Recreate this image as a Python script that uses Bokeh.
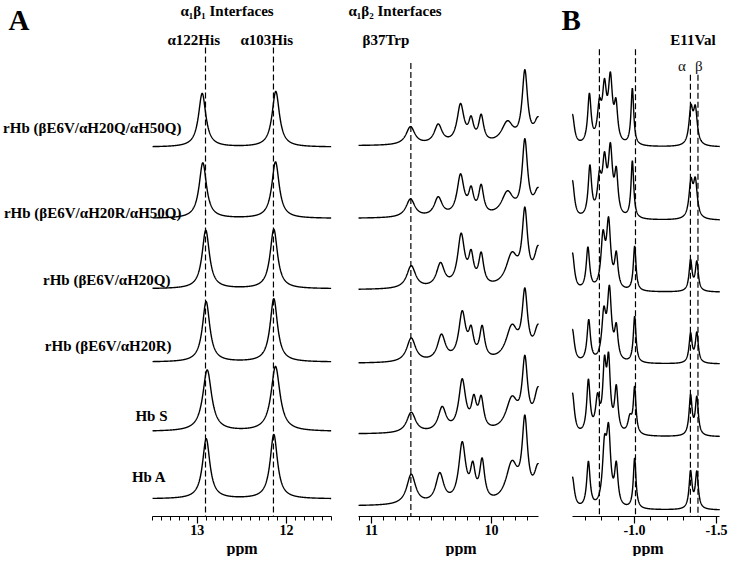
import numpy as np
from bokeh.plotting import figure
from bokeh.layouts import row
from bokeh.models import Range1d, FixedTicker, Title
from bokeh.core.properties import value
from bokeh.embed import file_html
from bokeh.resources import INLINE

# ---------------- data ----------------
sample_labels = ["rHb (βE6V/αH20Q/αH50Q)", "rHb (βE6V/αH20R/αH50Q)",
                 "rHb (βE6V/αH20Q)", "rHb (βE6V/αH20R)", "Hb S", "Hb A"]

# Panel A, alpha1beta1 interface (His) region: baseline (px), peak ppm, peak height (px), linewidth (ppm)
his_span = (13.5, 11.5)
his_base = [152, 225, 297, 372, 443, 512]
his_pos = [[12.944, 12.120], [12.937, 12.123], [12.904, 12.142],
           [12.900, 12.142], [12.888, 12.123], [12.899, 12.142]]
his_h = [[55, 57], [57, 58], [60, 61], [62, 65], [63, 66.6], [61.7, 66]]
his_w = [[0.10, 0.10], [0.10, 0.10], [0.10, 0.10],
         [0.10, 0.10], [0.12, 0.12], [0.10, 0.10]]
his_marks = [12.907, 12.146]

# Panel A, alpha1beta2 interface (Trp) region
trp_span = (11.108, 9.608)
trp_base = [150.7, 225, 298, 373.3, 445.7, 519.3]
trp_pos = [[10.675, 10.444, 10.258, 10.170, 10.086, 9.867, 9.722, 9.61],
           [10.675, 10.444, 10.258, 10.170, 10.086, 9.867, 9.722, 9.61],
           [10.669, 10.425, 10.253, 10.170, 10.086, 9.830, 9.722, 9.61],
           [10.669, 10.417, 10.244, 10.170, 10.078, 9.830, 9.722, 9.61],
           [10.669, 10.411, 10.244, 10.147, 10.086, 9.830, 9.722, 9.61],
           [10.669, 10.431, 10.244, 10.156, 10.078, 9.830, 9.722, 9.61]]
trp_h = [[19.7, 22.4, 43.4, 30.7, 32.4, 25.7, 78.0, 29.7],
         [20.0, 22.3, 45.7, 33.3, 35.0, 28.3, 81.7, 31.7],
         [24.7, 28.0, 58.0, 41.3, 38.7, 38.7, 84.7, 45.3],
         [26.0, 30.0, 54.0, 39.0, 39.0, 40.0, 77.3, 40.0],
         [22.4, 28.4, 56.7, 40.7, 39.7, 39.0, 80.7, 48.4],
         [32.6, 34.3, 66.0, 46.0, 49.3, 46.6, 93.3, 43.3]]
trp_w = [0.09, 0.08, 0.07, 0.05, 0.05, 0.12, 0.055, 0.08]
trp_marks = [10.672]

# Panel B, E11Val methyl region
val_span = (-0.621, -1.52)
val_base = [152, 227, 300.5, 374, 448.5, 523.5]
val_pos = [[-0.621, -0.725, -0.786, -0.817, -0.853, -0.887, -0.987, -1.344, -1.371],
           [-0.621, -0.728, -0.786, -0.817, -0.853, -0.889, -0.987, -1.344, -1.371],
           [-0.621, -0.716, -0.808, -0.842, -0.889, -1.001, -1.342, -1.380],
           [-0.621, -0.721, -0.813, -0.847, -0.889, -1.001, -1.342, -1.380],
           [-0.621, -0.719, -0.775, -0.817, -0.842, -0.889, -0.972, -1.001, -1.342, -1.380],
           [-0.621, -0.719, -0.817, -0.842, -0.889, -1.001, -1.342, -1.380]]
val_h = [[33.7, 55.3, 50.3, 70.3, 77.0, 50.3, 60.3, 43.7, 43.0],
         [41.0, 57.0, 51.0, 70.3, 79.7, 55.3, 61.0, 43.7, 44.3],
         [40.5, 46.5, 63.8, 77.2, 42.2, 47.2, 33.8, 32.2],
         [35.7, 45.7, 59.0, 80.7, 42.3, 49.0, 32.3, 33.0],
         [45.2, 59.2, 45.2, 83.5, 86.8, 53.5, 23.5, 51.8, 43.5, 41.8],
         [34.2, 50.2, 76.8, 89.2, 50.2, 53.5, 40.8, 40.2]]
val_w = [[0.03, 0.025, 0.03, 0.03, 0.03, 0.025, 0.02, 0.028, 0.028],
         [0.03, 0.025, 0.03, 0.03, 0.03, 0.025, 0.02, 0.028, 0.028],
         [0.03, 0.025, 0.03, 0.03, 0.025, 0.02, 0.022, 0.022],
         [0.03, 0.025, 0.03, 0.03, 0.025, 0.02, 0.022, 0.022],
         [0.03, 0.025, 0.03, 0.025, 0.025, 0.025, 0.03, 0.02, 0.022, 0.022],
         [0.03, 0.025, 0.03, 0.03, 0.025, 0.02, 0.022, 0.022]]
val_marks = [-0.786, -1.006, -1.341, -1.387]

# ---------------- helpers ----------------
FONT = value("Liberation Serif")
Y0 = 512.0  # reference pixel row used as zero of the vertical data scale


def yv(ref_y):
    return Y0 - np.asarray(ref_y, float)


def x1(px):  # panel A (His): pixel -> ppm
    return 13.0 - (np.asarray(px, float) - 196.7) / 89.3


def x2(px):  # panel A (Trp): pixel -> ppm
    return 11.0 - (np.asarray(px, float) - 371.0) / 120.0


def x3(px):  # panel B: pixel -> ppm (compressed a little to fit the window)
    return -1.0 - (np.asarray(px, float) - 634.0) / 164.0


def x3ref(ref_px):  # panel B: reference pixel -> ppm
    return -1.0 - (np.asarray(ref_px, float) - 641.5) / 199.0


def spectrum(x, pos, h, w):
    pos = np.asarray(pos, float)
    h = np.asarray(h, float)
    hw = np.asarray(w, float) / 2.0
    M = 1.0 / (1.0 + ((pos[:, None] - pos[None, :]) / hw[None, :]) ** 2)
    amp = np.linalg.solve(M, h)
    return (amp[None, :] / (1.0 + ((x[:, None] - pos[None, :]) / hw[None, :]) ** 2)).sum(axis=1)


def make_fig(width, xr, bounds, major, minor, overrides, ppm_offset):
    p = figure(width=width, height=556, x_range=Range1d(*xr), y_range=Range1d(-18, 510),
               output_backend="svg", toolbar_location=None,
               x_axis_location="below", y_axis_location=None,
               min_border_left=0, min_border_right=0, min_border_top=0, min_border_bottom=0)
    p.outline_line_color = None
    p.xgrid.visible = False
    p.ygrid.visible = False
    p.background_fill_color = "white"
    p.border_fill_color = "white"
    ax = p.xaxis[0]
    ax.bounds = bounds
    ax.ticker = FixedTicker(ticks=major, minor_ticks=minor)
    ax.major_label_overrides = overrides
    ax.axis_line_color = "black"
    ax.axis_line_width = 1.2
    ax.major_tick_line_color = "black"
    ax.minor_tick_line_color = "black"
    ax.major_tick_line_width = 1.2
    ax.minor_tick_line_width = 1.0
    ax.major_tick_in = 0
    ax.major_tick_out = 7
    ax.minor_tick_in = 0
    ax.minor_tick_out = 4
    ax.major_label_standoff = 1
    ax.major_label_text_font = "Liberation Serif"
    ax.major_label_text_font_style = "bold"
    ax.major_label_text_font_size = "14px"
    ax.major_label_text_color = "black"
    p.add_layout(Title(text="ppm", align="left", offset=ppm_offset, standoff=0,
                       text_font="Liberation Serif", text_font_style="bold",
                       text_font_size="16px", text_color="black"), "below")
    return p


def draw_traces(p, span, base, pos, h, w):
    x = np.linspace(span[0], span[1], 900)
    for i in range(len(base)):
        wi = w[i] if isinstance(w[i], (list, tuple)) else w
        y = yv(base[i]) + spectrum(x, pos[i], h[i], wi)
        p.line(x, y, line_color="black", line_width=1.4)


def draw_marks(p, xs, tops):
    p.segment(x0=xs, y0=list(yv(tops)), x1=xs, y1=[-18] * len(xs),
              line_color="black", line_width=1.2, line_dash="6 3")


def txt(p, x, y, s, size="15px", style="bold", align="left", baseline="alphabetic", color="black"):
    p.text(x=[float(x)], y=[float(y)], text=[s], text_font=FONT, text_font_style=style,
           text_font_size=size, text_align=align, text_baseline=baseline, text_color=color)


# ---------------- panel A: His ----------------
p1 = make_fig(344, (float(x1(0)), float(x1(344))), (11.5, 13.5), [12, 13],
              list(np.round(np.arange(11.5, 13.51, 0.1), 2)), {12: "12", 13: "13"}, 226)
draw_traces(p1, his_span, his_base, his_pos, his_h, his_w)
draw_marks(p1, his_marks, [50, 50])
txt(p1, x1(8), yv(22), "A", size="29px")
txt(p1, x1(180), yv(13), "α₁β₁ Interfaces")
txt(p1, x1(167), yv(42), "α122His")
txt(p1, x1(240), yv(42), "α103His")
label_right = [181, 181, 170, 171, 167, 166]
label_mid = [132, 219, 288, 356, 427.5, 490]
for s, rx, ry in zip(sample_labels, label_right, label_mid):
    txt(p1, x1(rx), yv(ry), s, align="right", baseline="middle")

# ---------------- panel A: Trp ----------------
p2 = make_fig(208, (float(x2(344)), float(x2(552))), (9.608, 11.108), [10, 11],
              list(np.round(np.arange(9.7, 11.11, 0.1), 2)), {10: "10", 11: "11"}, 101)
draw_traces(p2, trp_span, trp_base, trp_pos, trp_h, trp_w)
draw_marks(p2, trp_marks, [66])
txt(p2, x2(348), yv(13), "α₁β₂ Interfaces")
txt(p2, x2(362), yv(42), "β37Trp")

# ---------------- panel B: E11Val ----------------
p3 = make_fig(177, (float(x3(552)), float(x3(729))), (-1.52, -0.621), [-1.5, -1.0],
              list(np.round(np.arange(-1.5, -0.6, 0.1), 2)), {-1.5: "-1.5", -1.0: "-1.0"}, 80)
draw_traces(p3, val_span, val_base, val_pos, val_h, val_w)
draw_marks(p3, val_marks, [52, 52, 78, 78])
txt(p3, x3(561), yv(22), "B", size="29px")
txt(p3, x3ref(685), yv(42), "E11Val")
txt(p3, x3ref(699), yv(69), "α", style="normal", align="center", baseline="middle", color="#111111")
txt(p3, x3ref(719.5), yv(69), "β", style="normal", align="center", baseline="middle", color="#111111")

layout = row(p1, p2, p3, spacing=0)
open("out.html", "w").write(file_html(layout, INLINE))
